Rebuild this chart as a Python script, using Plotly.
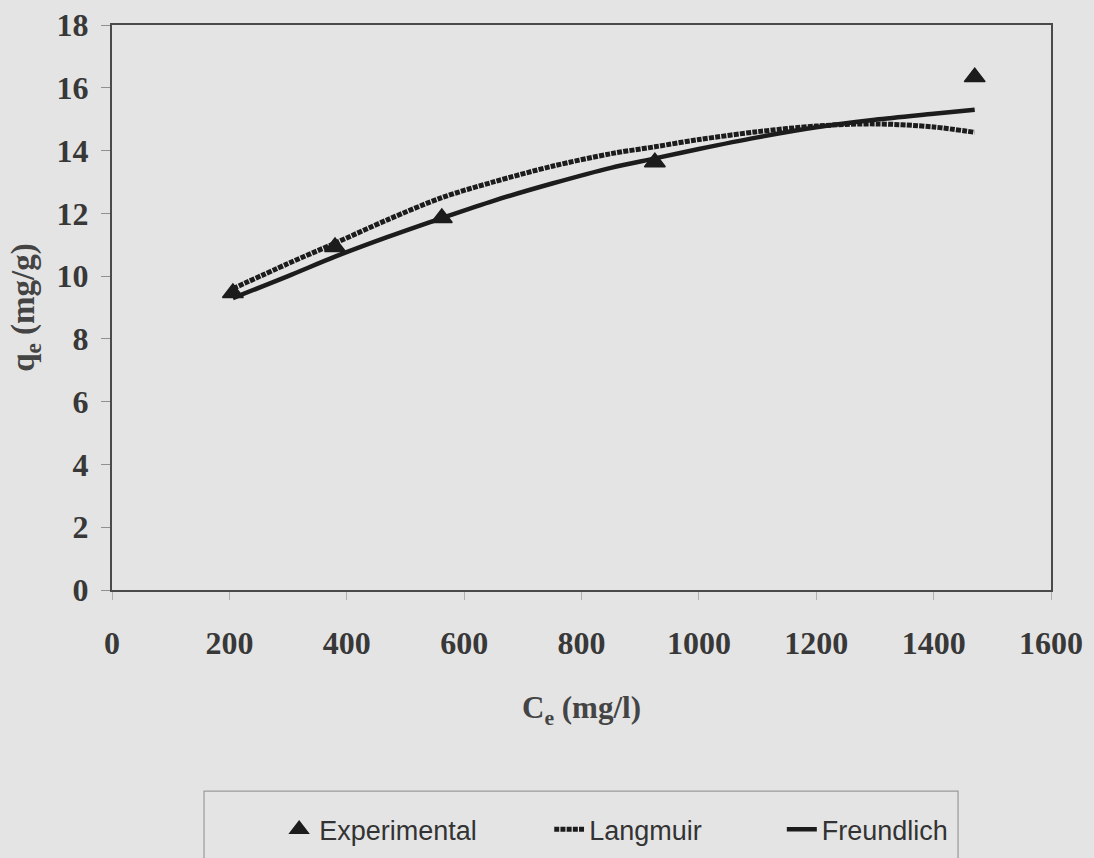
import plotly.graph_objects as go

# Equilibrium concentration (mg/l) and measured uptake (mg/g)
ce_exp = [206, 380, 562, 925, 1470]
qe_exp = [9.46, 10.93, 11.85, 13.63, 16.34]

# Fitted isotherm curves
ce_fit = [206, 300, 380, 470, 562, 650, 750, 850, 925, 1000, 1100, 1200, 1300, 1400, 1470]
qe_langmuir = [9.6, 10.4, 11.05, 11.8, 12.5, 13.0, 13.5, 13.9, 14.12, 14.35, 14.6, 14.78, 14.85, 14.75, 14.58]
qe_freundlich = [9.3, 10.0, 10.62, 11.25, 11.85, 12.4, 12.95, 13.45, 13.75, 14.05, 14.42, 14.74, 14.98, 15.17, 15.3]

x_ticks = [0, 200, 400, 600, 800, 1000, 1200, 1400, 1600]
y_ticks = [0, 2, 4, 6, 8, 10, 12, 14, 16, 18]

BG = "#e4e4e4"
INK = "#1c1c1c"
SERIF = "Liberation Serif, Times New Roman, serif"
SANS = "Liberation Sans Narrow, Liberation Sans, Arial, sans-serif"
PAD = "\u00a0"

fig = go.Figure()

fig.add_trace(go.Scatter(
    x=ce_exp, y=qe_exp, mode="markers", name="Experimental" + PAD * 9,
    marker=dict(symbol="triangle-up", size=18, color=INK, line=dict(width=1.5, color=INK)),
))
fig.add_trace(go.Scatter(
    x=ce_fit, y=qe_langmuir, mode="lines", name="Langmuir" + PAD * 10,
    line=dict(color=INK, width=5, dash="5px,1.2px", shape="spline", smoothing=0.9),
))
fig.add_trace(go.Scatter(
    x=ce_fit, y=qe_freundlich, mode="lines", name="Freundlich",
    line=dict(color=INK, width=4.5, shape="spline", smoothing=0.9),
))

fig.update_xaxes(
    range=[0, 1600], tickvals=x_ticks, ticktext=[str(v) for v in x_ticks],
    showline=True, linecolor="#4a4a4a", linewidth=2, mirror=True,
    showgrid=False, zeroline=False,
    ticks="outside", ticklen=8, tickwidth=1, tickcolor="#b0b0b0",
    ticklabelstandoff=16,
    tickfont=dict(family=SERIF, size=32, color="#383838", weight="bold"),
    title=dict(text="C<sub>e</sub> (mg/l)", standoff=36,
               font=dict(family=SERIF, size=31, color="#444444", weight="bold")),
)
fig.update_yaxes(
    range=[0, 18], tickvals=y_ticks, ticktext=[str(v) for v in y_ticks],
    showline=True, linecolor="#4a4a4a", linewidth=2, mirror=True,
    showgrid=False, zeroline=False,
    ticks="outside", ticklen=9, tickwidth=1, tickcolor="#909090",
    ticklabelstandoff=6,
    tickfont=dict(family=SERIF, size=32, color="#383838", weight="bold"),
    title=dict(text="q<sub>e</sub> (mg/g)", standoff=12,
               font=dict(family=SERIF, size=33, color="#444444", weight="bold")),
)

# Legend frame (open at the bottom edge of the page)
fig.add_shape(type="rect", xref="paper", yref="paper",
              x0=0.098, x1=0.901, y0=-0.62, y1=-0.356,
              line=dict(color="#9a9a9a", width=1.2), fillcolor="rgba(0,0,0,0)", layer="below")

fig.update_layout(
    width=1094, height=858,
    margin=dict(l=112, r=43, t=25, b=268, autoexpand=False),
    paper_bgcolor=BG, plot_bgcolor=BG,
    showlegend=True,
    legend=dict(
        orientation="h", x=0.178, xanchor="left", y=-0.381, yanchor="top",
        bgcolor="rgba(0,0,0,0)", borderwidth=0,
        font=dict(family=SANS, size=27, color="#333333"), itemwidth=30,
    ),
)

fig.write_html("out.html")
